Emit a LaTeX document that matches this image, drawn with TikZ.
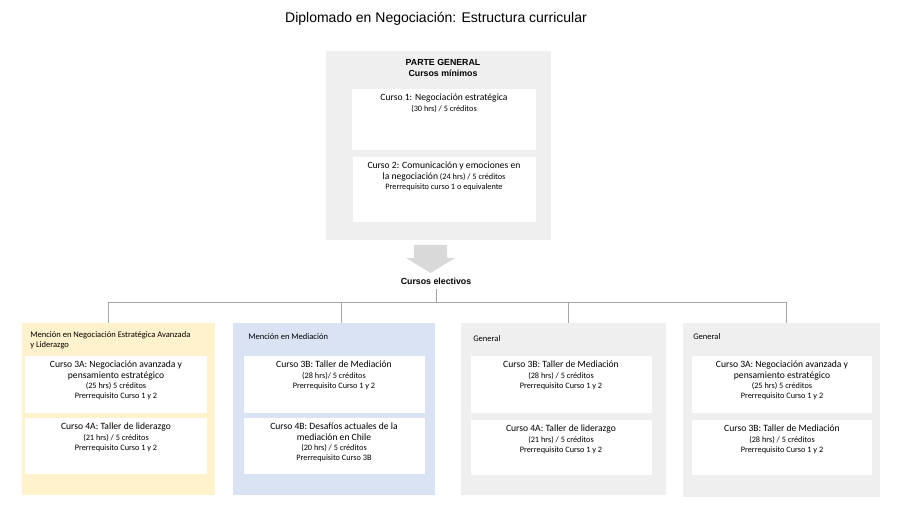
\documentclass[tikz,border=0pt]{standalone}
\usepackage{fontspec}
\setmainfont{Carlito}
\newfontfamily\headfont{Liberation Sans}
\usetikzlibrary{positioning}
\definecolor{panelgray}{HTML}{EFEFEF}
\definecolor{panelyellow}{HTML}{FFF2CC}
\definecolor{panelblue}{HTML}{DAE3F3}
\definecolor{linegray}{HTML}{A6A6A6}
\definecolor{arrowgray}{HTML}{D9D9D9}
\tikzset{
  panel/.style={fill=panelgray, draw=none},
  course/.style={fill=white, draw=none},
  ctext/.style={anchor=north, align=center, font=\fontsize{6.2}{7.6}\selectfont, inner sep=0pt},
  htext/.style={anchor=north west, align=left, font=\fontsize{6.4}{8}\selectfont, inner sep=0pt},
  link/.style={draw=linegray, line width=0.5pt}
}
\newcommand{\ctitle}[1]{{\fontsize{7.2}{8.4}\selectfont #1}}
\begin{document}
\begin{tikzpicture}[x=0.75pt,y=-0.75pt]
\useasboundingbox (0,0) rectangle (900,506);

% title
\node[font=\headfont\fontsize{10.5}{12}\selectfont] (title) at (436,19) {Diplomado en Negociación: Estructura curricular};

% parte general
\fill[panel] (326,51) rectangle (551,240);
\node[align=center, font=\headfont\bfseries\fontsize{6.6}{8.6}\selectfont] (pg) at (443,68) {PARTE GENERAL\\Cursos mínimos};
\fill[course] (352,89) rectangle (536,150);
\node[ctext] (c1) at (444,94) {\ctitle{Curso 1: Negociación estratégica}\\(30 hrs) / 5 créditos};
\fill[course] (353,157) rectangle (536,222);
\node[ctext] (c2) at (444,162) {\ctitle{Curso 2: Comunicación y emociones en}\\\ctitle{la negociación} (24 hrs) / 5 créditos\\Prerrequisito curso 1 o equivalente};

% arrow
\fill[arrowgray] (414,245) -- (447,245) -- (447,258) -- (455,258) -- (430.5,273) -- (406,258) -- (414,258) -- cycle;
\node[font=\headfont\bfseries\fontsize{6.6}{8}\selectfont] (elect) at (436,281) {Cursos electivos};

% connectors
\coordinate (hub) at (436,302);
\draw[link] (elect.south) -- (hub);
\draw[link] (108,302) -- (786,302);
\foreach \x in {108,341,568,786}
  \draw[link] (\x,302) -- (\x,323);

% mencion negociacion
\fill[fill=panelyellow] (22,323) rectangle (215,495);
\node[htext] (ma) at (30,331) {Mención en Negociación Estratégica Avanzada\\y Liderazgo};
\fill[course] (25,356) rectangle (207,413);
\node[ctext] (c3a) at (116,361) {\ctitle{Curso 3A: Negociación avanzada y}\\\ctitle{pensamiento estratégico}\\(25 hrs) 5 créditos\\Prerrequisito Curso 1 y 2};
\fill[course] (25,418) rectangle (207,474);
\node[ctext] (c4a) at (116,423) {\ctitle{Curso 4A: Taller de liderazgo}\\(21 hrs) / 5 créditos\\Prerrequisito Curso 1 y 2};

% mencion mediacion
\fill[fill=panelblue] (233,323) rectangle (435,495);
\node[htext] (mb) at (248,333) {Mención en Mediación};
\fill[course] (244,356) rectangle (425,413);
\node[ctext] (c3b) at (334,361) {\ctitle{Curso 3B: Taller de Mediación}\\(28 hrs)/ 5 créditos\\Prerrequisito Curso 1 y 2};
\fill[course] (244,418) rectangle (425,474);
\node[ctext] (c4b) at (334,423) {\ctitle{Curso 4B: Desafíos actuales de la}\\\ctitle{mediación en Chile}\\(20 hrs) / 5 créditos\\Prerrequisito Curso 3B};

% general 1
\fill[panel] (461,323) rectangle (666,495);
\node[htext] (g1) at (473,335) {General};
\fill[course] (471,356) rectangle (652,413);
\node[ctext] (g1a) at (561,361) {\ctitle{Curso 3B: Taller de Mediación}\\(28 hrs) / 5 créditos\\Prerrequisito Curso 1 y 2};
\fill[course] (471,420) rectangle (652,475);
\node[ctext] (g1b) at (561,425) {\ctitle{Curso 4A: Taller de liderazgo}\\(21 hrs) / 5 créditos\\Prerrequisito Curso 1 y 2};

% general 2
\fill[panel] (683,323) rectangle (880,497);
\node[htext] (g2) at (693,333) {General};
\fill[course] (692,356) rectangle (872,413);
\node[ctext] (g2a) at (782,361) {\ctitle{Curso 3A: Negociación avanzada y}\\\ctitle{pensamiento estratégico}\\(25 hrs) 5 créditos\\Prerrequisito Curso 1 y 2};
\fill[course] (692,420) rectangle (872,475);
\node[ctext] (g2b) at (782,425) {\ctitle{Curso 3B: Taller de Mediación}\\(28 hrs) / 5 créditos\\Prerrequisito Curso 1 y 2};
\end{tikzpicture}
\end{document}
